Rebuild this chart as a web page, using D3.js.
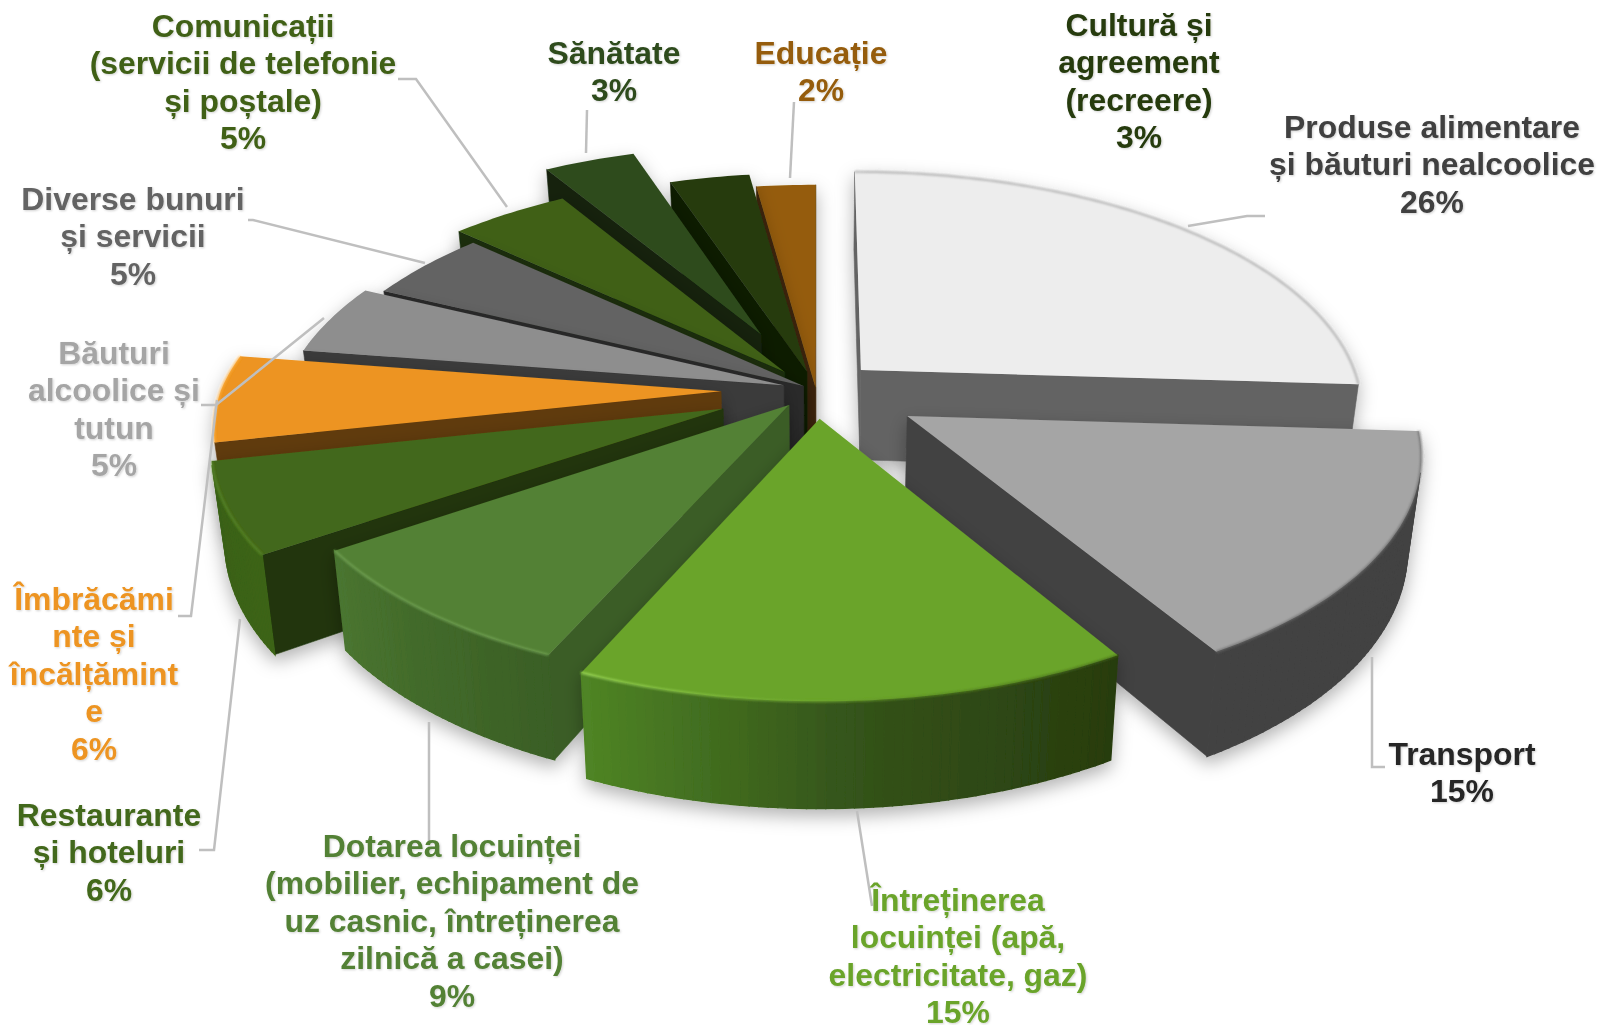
<!DOCTYPE html>
<html><head><meta charset="utf-8">
<script src="https://d3js.org/d3.v7.min.js"></script>
<style>html,body{margin:0;padding:0;background:#fff}svg{display:block}text{font-family:"Liberation Sans",Arial,sans-serif;font-weight:700}</style>
</head><body><svg id="c" width="1599" height="1025"></svg>
<script>
// ---- data ----
const categories = ["Produse alimentare și băuturi nealcoolice","Transport","Întreținerea locuinței (apă, electricitate, gaz)","Dotarea locuinței (mobilier, echipament de uz casnic, întreținerea zilnică a casei)","Restaurante și hoteluri","Îmbrăcăminte și încălțăminte","Băuturi alcoolice și tutun","Diverse bunuri și servicii","Comunicații (servicii de telefonie și poștale)","Sănătate","Cultură și agreement (recreere)","Educație"];
const shares = [26,15.4,15.4,8.8,6.1,5.8,4.7,4.7,4.5,3.5,3,2.2];
const percentLabels = ["26%","15%","15%","9%","6%","6%","5%","5%","5%","3%","3%","2%"];
const labelLines = [
 ["Produse alimentare","și băuturi nealcoolice","26%"],["Transport","15%"],["Întreținerea","locuinței (apă,","electricitate, gaz)","15%"],
 ["Dotarea locuinței","(mobilier, echipament de","uz casnic, întreținerea","zilnică a casei)","9%"],["Restaurante","și hoteluri","6%"],
 ["Îmbrăcămi","nte și","încălțămint","e","6%"],["Băuturi","alcoolice și","tutun","5%"],["Diverse bunuri","și servicii","5%"],
 ["Comunicații","(servicii de telefonie","și poștale)","5%"],["Sănătate","3%"],["Cultură și","agreement","(recreere)","3%"],["Educație","2%"]];

// ---- styling / layout ----
const topColors  = ["#EDEDED","#A5A5A5","#6AA42B","#538135","#43681A","#ED9420","#8E8E8E","#636363","#406019","#2F4B1F","#263B10","#955C08"];
const sideColors = ["#636363","#434343","#3A5F18","#3B5D26","#20350B","#613A0C","#3A3A3A","#2B2B2B","#1A2D0A","#14220D","#101C06","#412609"];
const rimRamps = [["#636363","#636363"],["#434343","#434343"],["#283C0E","#34531A","#4F8525"],["#3A5F25","#4A7530"],["#3C6416","#3A6116"],["#F8A523","#F8A523"],["#3A3A3A","#3A3A3A"],["#2B2B2B","#2B2B2B"],["#1A2D0A","#1A2D0A"],["#0F1C08","#0F1C08"],["#101C06","#101C06"],["#412609","#412609"]];
const bevel = ["#a8a8a8","#6a6a6a","url(#rimGreen)","#78a85a","#5d8c2a","#ffb040",null,null,null,null,null,null];
const labelColors = ["#404040","#262626","#6AA42B","#538135","#43681A","#ED9420","#A5A5A5","#636363","#406019","#2F4B1F","#263B10","#955C08"];
const explode = [.125,.21,.12,.083,.2,.19,.068,.03,.1,.27,.08,.01];
const paintOrder = [11,10,9,8,7,6,5,4,0,1,3,2];
const labelAnchor = [[1432,128],[1462,755],[958,901],[452,847],[109,816],[94,600],[114,354],[133,200],[243,27],[614,54],[1139,26],[821,54]];
const leaders = [
 [[1188,226],[1247,216],[1265,216]],[[1372,657],[1372,767],[1385,767]],[[857,811],[872,906]],[[429,722],[429,842]],
 [[240,619],[214,850],[199,850]],[[217,400],[191,616],[178,616]],[[324,318],[216,405],[201,405]],[[425,263],[253,220],[248,220]],
 [[507,207],[416,79],[398,79]],[[586,153],[587,110]],null,[[790,178],[794,102]]];
const cx=816, cy=390, rx=500, ry=236, h=91, kFront=.135, kBack=.16, taper=.023, fs=31.9, lh=37.4;

const svg=d3.select("#c");
const defs=svg.append("defs");
const sh=defs.append("filter").attr("id","sh").attr("filterUnits","userSpaceOnUse").attr("x",0).attr("y",0).attr("width",1599).attr("height",1025);
sh.append("feDropShadow").attr("dx",0).attr("dy",7).attr("stdDeviation",9).attr("flood-color","#000").attr("flood-opacity",.3);
defs.append("filter").attr("id","bl").attr("filterUnits","userSpaceOnUse").attr("x",0).attr("y",0).attr("width",1599).attr("height",1025).append("feGaussianBlur").attr("stdDeviation",1.3);
const ts=defs.append("filter").attr("id","ts");
ts.append("feDropShadow").attr("dx",1).attr("dy",1).attr("stdDeviation",.8).attr("flood-color","#000").attr("flood-opacity",.18);
const rg=defs.append("linearGradient").attr("id","rimGreen").attr("gradientUnits","userSpaceOnUse").attr("x1",580).attr("x2",1120).attr("y1",0).attr("y2",0);
[[0,"#a9e565"],[.3,"#7db83a"],[.65,"#5a8a22"],[1,"#43651a"]].forEach(d=>rg.append("stop").attr("offset",d[0]).attr("stop-color",d[1]));

const pie=d3.pie().sort(null).value(d=>d);
const arcs=pie(shares);
const project=(X,Y,z)=>{const s=1/(1-(Y<0?kBack:kFront)*Y);return [cx+X*rx*s*(1-taper*z), cy+Y*ry*s+z*h*s];};
const line=d3.line();
const poly=p=>line(p)+"Z";
const area2=p=>d3.sum(p,(a,i)=>{const b=p[(i+1)%p.length];return a[0]*b[1]-b[0]*a[1];});

paintOrder.forEach(i=>{
  const a=arcs[i], mid=(a.startAngle+a.endAngle)/2, e=explode[i];
  const ox=e*Math.sin(mid), oy=-e*Math.cos(mid);
  const P=(r,t,z)=>project(ox+r*Math.sin(t), oy-r*Math.cos(t), z);
  const n=Math.max(8,Math.round((a.endAngle-a.startAngle)*60));
  const ang=d3.range(n+1).map(j=>a.startAngle+(a.endAngle-a.startAngle)*j/n);
  const g=svg.append("g").attr("filter","url(#sh)");
  // radial walls
  const startWall=[P(1,a.startAngle,0),P(0,0,0),P(0,0,1),P(1,a.startAngle,1)];
  const endWall=[P(0,0,0),P(1,a.endAngle,0),P(1,a.endAngle,1),P(0,0,1)];
  [startWall,endWall].forEach(w=>{ if(area2(w)>0) g.append("path").attr("d",poly(w)).attr("fill",sideColors[i]).attr("stroke",sideColors[i]).attr("stroke-width",.6); });
  // curved wall, coloured along the rim
  const ramp=rimRamps[i];
  const col=d3.scaleLinear().domain(d3.range(ramp.length).map(j=>a.startAngle+(a.endAngle-a.startAngle)*j/(ramp.length-1))).range(ramp);
  ang.slice(0,-1).forEach((t,j)=>{
    const t2=ang[j+1], q=[P(1,t,0),P(1,t2,0),P(1,t2,1),P(1,t,1)];
    if(area2(q)<0){const c=col((t+t2)/2); g.append("path").attr("d",poly(q)).attr("fill",c).attr("stroke",c).attr("stroke-width",1.4);}
  });
  // top face
  const rim=ang.map(t=>P(1,t,0));
  g.append("path").attr("d",poly([P(0,0,0),...rim])).attr("fill",topColors[i]);
  if(bevel[i]) g.append("path").attr("d",line(rim)).attr("fill","none").attr("stroke",bevel[i]).attr("stroke-width",2.2).attr("filter","url(#bl)").attr("opacity",.8);
});

// leader lines
svg.append("g").selectAll("path").data(leaders.filter(Boolean)).join("path")
  .attr("d",d=>line(d)).attr("fill","none").attr("stroke","#BFBFBF").attr("stroke-width",2.5);

// labels
labelLines.forEach((ls,i)=>{
  const t=svg.append("text").attr("text-anchor","middle").attr("fill",labelColors[i]).attr("font-size",fs).attr("filter","url(#ts)");
  ls.forEach((s,j)=>t.append("tspan").attr("x",labelAnchor[i][0]).attr("y",labelAnchor[i][1]+j*lh+10).text(s));
});
</script></body></html>
